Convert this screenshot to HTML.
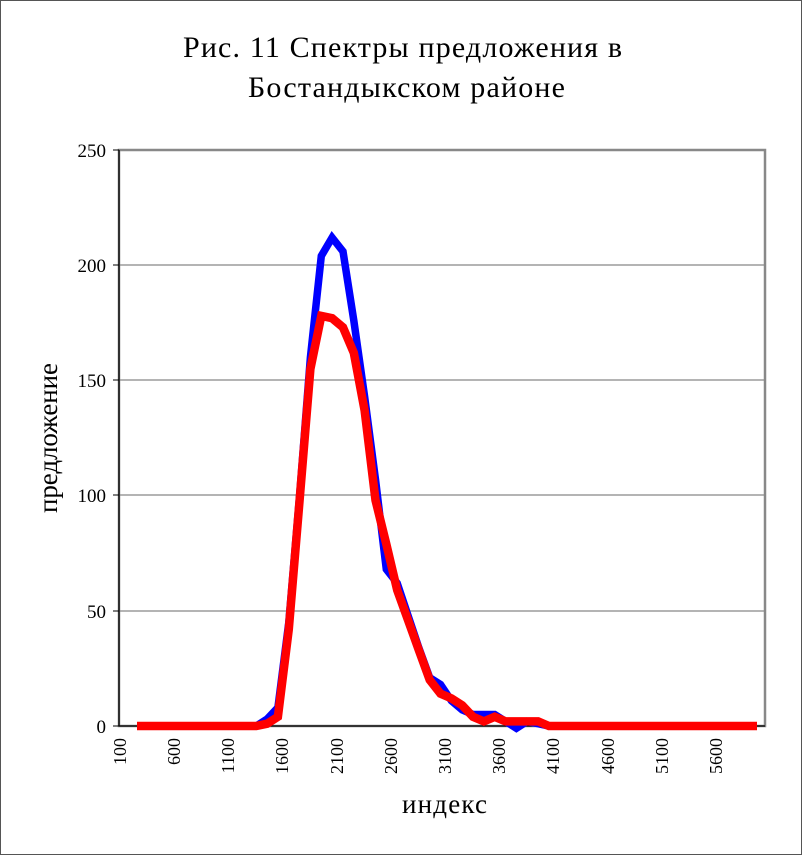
<!DOCTYPE html>
<html><head><meta charset="utf-8"><style>
html,body{margin:0;padding:0;background:#fff}
svg{display:block}
text{font-family:"Liberation Serif","DejaVu Serif",serif;fill:#000}
</style></head><body>
<svg width="802" height="855" viewBox="0 0 802 855" xmlns="http://www.w3.org/2000/svg">
<rect x="0.5" y="0.5" width="801" height="854" fill="#fff" stroke="#555" stroke-width="1"/>
<text x="183" y="57" font-size="30" textLength="439" lengthAdjust="spacing">Рис. 11 Спектры предложения в</text>
<text x="248" y="97" font-size="30" textLength="317" lengthAdjust="spacing">Бостандыкском районе</text>
<g stroke="#888" stroke-width="1.3">
<line x1="119" y1="265" x2="765" y2="265"/>
<line x1="119" y1="380" x2="765" y2="380"/>
<line x1="119" y1="495" x2="765" y2="495"/>
<line x1="119" y1="611" x2="765" y2="611"/>
</g>
<rect x="119" y="150" width="646" height="576" fill="none" stroke="#888" stroke-width="2.5"/>
<line x1="119" y1="150" x2="119" y2="726" stroke="#000" stroke-width="1.3"/>
<line x1="119" y1="726" x2="765" y2="726" stroke="#000" stroke-width="1.3"/>
<g stroke="#000" stroke-width="1">
<line x1="113" y1="150" x2="119" y2="150"/><line x1="113" y1="265" x2="119" y2="265"/>
<line x1="113" y1="380" x2="119" y2="380"/><line x1="113" y1="495" x2="119" y2="495"/>
<line x1="113" y1="611" x2="119" y2="611"/><line x1="113" y1="726" x2="119" y2="726"/>
</g>
<g font-size="19" text-anchor="end">
<text x="106" y="157">250</text><text x="106" y="272">200</text><text x="106" y="387">150</text>
<text x="106" y="502">100</text><text x="106" y="618">50</text><text x="106" y="733">0</text>
</g>
<g id="ticks" stroke="#000" stroke-width="1"></g>
<script>
var g=document.getElementById('ticks'),s='';
for(var i=0;i<=60;i++){var x=119+i*10.84;s+='<line x1="'+x+'" y1="726" x2="'+x+'" y2="732"/>';}
g.innerHTML=s;
</script>
<g font-size="18" text-anchor="end">
<text transform="translate(126,738) rotate(-90)">100</text>
<text transform="translate(180,738) rotate(-90)">600</text>
<text transform="translate(234,738) rotate(-90)">1100</text>
<text transform="translate(288,738) rotate(-90)">1600</text>
<text transform="translate(343,738) rotate(-90)">2100</text>
<text transform="translate(397,738) rotate(-90)">2600</text>
<text transform="translate(451,738) rotate(-90)">3100</text>
<text transform="translate(505,738) rotate(-90)">3600</text>
<text transform="translate(559,738) rotate(-90)">4100</text>
<text transform="translate(614,738) rotate(-90)">4600</text>
<text transform="translate(668,738) rotate(-90)">5100</text>
<text transform="translate(722,738) rotate(-90)">5600</text>
</g>
<text x="402" y="813" font-size="27" textLength="85" lengthAdjust="spacing">индекс</text>
<text transform="translate(57,513) rotate(-90)" font-size="27" textLength="150" lengthAdjust="spacing">предложение</text>
<polyline fill="none" stroke="#0000ff" stroke-width="7.5" stroke-linejoin="miter" points="137,726 256.2,726 267.1,719.1 277.9,707.6 288.8,622.3 299.6,495.6 310.4,357.4 321.3,256 332.1,237.6 343,251.4 353.8,320.5 364.6,396.5 375.5,479.5 386.3,569.3 397.2,583.2 408,615.4 418.8,647.7 429.7,677.6 440.5,684.5 451.4,700.7 462.2,709.9 473,714.5 483.9,714.5 494.7,714.5 505.6,721.4 516.4,728.3 527.2,721.4 538.1,723.7 548.9,726 755,726"/>
<polyline fill="none" stroke="#ff0000" stroke-width="8.5" stroke-linejoin="miter" points="137,726 256.2,726 267.1,723.7 277.9,716.8 288.8,629.2 299.6,500.2 310.4,368.9 321.3,315.9 332.1,318.2 343,327.4 353.8,352.8 364.6,410.4 375.5,500.2 386.3,544 397.2,590.1 408,620 418.8,650 429.7,679.9 440.5,693.7 451.4,698.4 462.2,705.3 473,716.8 483.9,721.4 494.7,716.8 505.6,721.4 516.4,721.4 527.2,721.4 538.1,721.4 548.9,726 757,726"/>
</svg>
</body></html>
